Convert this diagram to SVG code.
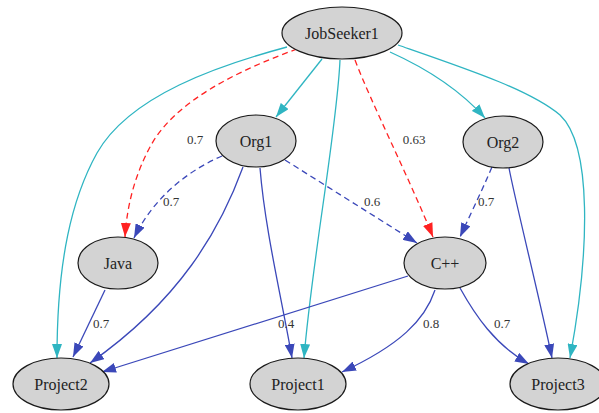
<svg xmlns="http://www.w3.org/2000/svg" width="599" height="413" viewBox="0 0 599 413">
<style>
.node ellipse{fill:#d3d3d3;stroke:#1a1a1a;stroke-width:1.2}
.node text{font-family:'Liberation Serif','Times New Roman',serif;font-size:16px;fill:#222;text-anchor:middle}
.e{fill:none;stroke-width:1.3}
.c{stroke:#2fb5c2}
.b{stroke:#3b48b9}
.r{stroke:#ff2222}
.d{stroke-dasharray:6,4}
.lbl{font-family:'Liberation Serif','Times New Roman',serif;font-size:13px;fill:#333;text-anchor:middle}
</style>
<defs>
<marker id="ac" viewBox="0 0 14 10" refX="14" refY="5" markerWidth="14" markerHeight="10" markerUnits="userSpaceOnUse" orient="auto"><path d="M0,0 L14,5 L0,10 Z" fill="#2fb5c2"/></marker>
<marker id="ab" viewBox="0 0 14 10" refX="14" refY="5" markerWidth="14" markerHeight="10" markerUnits="userSpaceOnUse" orient="auto"><path d="M0,0 L14,5 L0,10 Z" fill="#3b48b9"/></marker>
<marker id="ar" viewBox="0 0 14 10" refX="14" refY="5" markerWidth="14" markerHeight="10" markerUnits="userSpaceOnUse" orient="auto"><path d="M0,0 L14,5 L0,10 Z" fill="#ff2222"/></marker>
</defs>
<g id="connectors">
<path class="e c" d="M287,47 C220,65 130,95 97,153 C72,198 57,260 57,358" marker-end="url(#ac)"/>
<path class="e r d" d="M297,49 C240,70 175,100 150,147 C135,175 127,205 125,237" marker-end="url(#ar)"/>
<path class="e c" d="M322,59 L276,117" marker-end="url(#ac)"/>
<path class="e c" d="M340,60 C337,130 312,260 304,358" marker-end="url(#ac)"/>
<path class="e r d" d="M355,60 C370,100 410,180 433,237" marker-end="url(#ar)"/>
<path class="e c" d="M390,52 C430,70 460,90 485,118" marker-end="url(#ac)"/>
<path class="e c" d="M398,45 C470,70 530,90 560,115 C592,145 590,250 570,358" marker-end="url(#ac)"/>
<path class="e b d" d="M222,156 C190,170 155,195 134,238" marker-end="url(#ab)"/>
<path class="e b d" d="M285,160 L417,243" marker-end="url(#ab)"/>
<path class="e b" d="M243,167 C220,230 180,300 90,363" marker-end="url(#ab)"/>
<path class="e b" d="M260,168 C265,230 282,300 292,358" marker-end="url(#ab)"/>
<path class="e b d" d="M492,167 C480,195 470,215 460,237" marker-end="url(#ab)"/>
<path class="e b" d="M509,168 C515,200 540,300 552,358" marker-end="url(#ab)"/>
<path class="e b" d="M105,290 L73,357" marker-end="url(#ab)"/>
<path class="e b" d="M408,276 L102,372" marker-end="url(#ab)"/>
<path class="e b" d="M435,290 C425,320 400,345 342,372" marker-end="url(#ab)"/>
<path class="e b" d="M460,288 C475,315 495,345 529,364" marker-end="url(#ab)"/>
<text class="lbl" x="195" y="144">0.7</text>
<text class="lbl" x="414" y="144">0.63</text>
<text class="lbl" x="171" y="206">0.7</text>
<text class="lbl" x="372" y="206">0.6</text>
<text class="lbl" x="486" y="206">0.7</text>
<text class="lbl" x="101" y="328">0.7</text>
<text class="lbl" x="286" y="328">0.4</text>
<text class="lbl" x="431" y="328">0.8</text>
<text class="lbl" x="502" y="328">0.7</text>
</g>
<g id="JobSeeker1" class="node"><ellipse cx="342" cy="33" rx="60" ry="26"/><text x="342" y="39">JobSeeker1</text></g>
<g id="Org1" class="node"><ellipse cx="256" cy="141" rx="40" ry="26"/><text x="256" y="147">Org1</text></g>
<g id="Org2" class="node"><ellipse cx="503" cy="142" rx="40" ry="26"/><text x="503" y="148">Org2</text></g>
<g id="Java" class="node"><ellipse cx="118" cy="263" rx="40" ry="26"/><text x="118" y="269">Java</text></g>
<g id="Cpp" class="node"><ellipse cx="445" cy="263" rx="41" ry="26"/><text x="445" y="269">C++</text></g>
<g id="Project2" class="node"><ellipse cx="61" cy="384" rx="48" ry="26"/><text x="61" y="390">Project2</text></g>
<g id="Project1" class="node"><ellipse cx="298" cy="384" rx="48" ry="26"/><text x="298" y="390">Project1</text></g>
<g id="Project3" class="node"><ellipse cx="558" cy="384" rx="48" ry="26"/><text x="558" y="390">Project3</text></g>
</svg>
